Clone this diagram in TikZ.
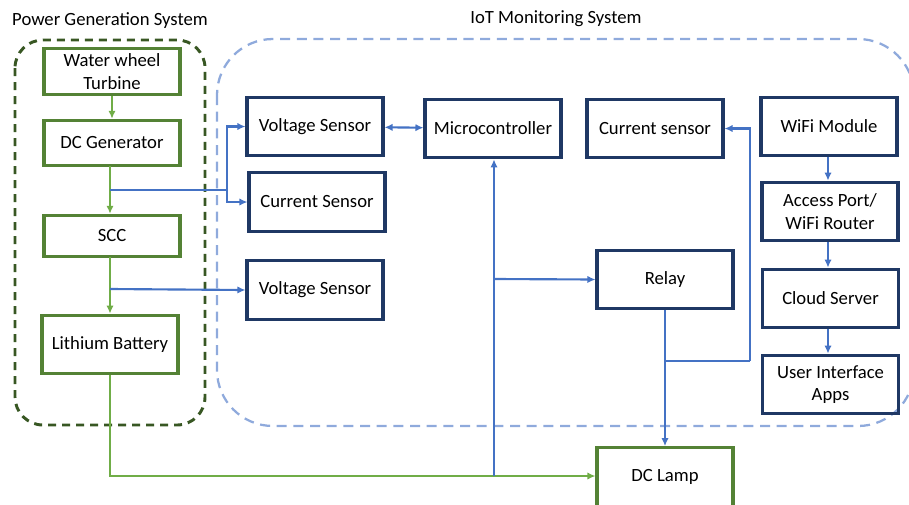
\documentclass[tikz,border=0pt]{standalone}
\usepackage{fontspec}
\setmainfont{Carlito}
\usetikzlibrary{arrows.meta}

\definecolor{pgreen}{HTML}{548235}
\definecolor{lgreen}{HTML}{70AD47}
\definecolor{dgreen}{HTML}{385723}
\definecolor{navy}{HTML}{1F3864}
\definecolor{lblue}{HTML}{4472C4}
\definecolor{dashblue}{HTML}{8FAADC}

\begin{document}
\begin{tikzpicture}[x=0.75pt, y=-0.75pt,
    font=\fontsize{14}{17}\selectfont,
    block/.style={rectangle, draw=navy, line width=2.3pt, minimum width=102pt, minimum height=44pt, align=center, inner sep=2pt},
    pgblock/.style={block, draw=pgreen},
    arrow/.style={-{Latex[length=6pt,width=5.5pt]}, line width=1.6pt, draw=lblue},
    dblarrow/.style={arrow, {Latex[length=6pt,width=5.5pt]}-{Latex[length=6pt,width=5.5pt]}},
    garrow/.style={arrow, draw=lgreen},
    wire/.style={line width=1.6pt, draw=lblue},
    gwire/.style={wire, draw=lgreen},
    pggroup/.style={draw=dgreen, line width=2.2pt, dash pattern=on 6pt off 4.5pt, rounded corners=21pt},
    iotgroup/.style={draw=dashblue, line width=1.7pt, dash pattern=on 7.5pt off 5pt, rounded corners=42pt}
]
\useasboundingbox (0,0) rectangle (909,504);

% Group frames
\draw[pggroup] (15,40) rectangle (205,425);
\draw[iotgroup] (217,39) rectangle (914,426);
\node (pg_title) at (110,21) {Power Generation System};
\node (iot_title) at (556,19) {IoT Monitoring System};

% Power generation blocks
\node[pgblock, minimum height=35pt] (turbine) at (112,71.5) {Water wheel\\Turbine};
\node[pgblock, minimum height=34pt] (dc_gen) at (112,143) {DC Generator};
\node[pgblock, minimum height=31pt] (scc) at (112,236) {SCC};
\node[pgblock] (battery) at (110,344.5) {Lithium Battery};
\node[pgblock] (dc_lamp) at (665,477) {DC Lamp};

% Sensors
\node[block] (vs_gen) at (315,126.5) {Voltage Sensor};
\node[block] (cs_gen) at (317,202) {Current Sensor};
\node[block] (vs_scc) at (315,290) {Voltage Sensor};
\node[block] (cs_load) at (655,128.5) {Current sensor};

% Control
\node[block] (mcu) at (493,128.5) {Microcontroller};
\node[block] (relay) at (665,279.5) {Relay};

% Network chain
\node[block] (wifi) at (829,126.5) {WiFi Module};
\node[block] (router) at (830,211.5) {Access Port/\\WiFi Router};
\node[block] (cloud) at (830.5,298.5) {Cloud Server};
\node[block] (ui_apps) at (830.5,384.5) {User Interface\\Apps};

% Tap points
\coordinate (tap_gen) at (110,190);
\coordinate (split_gen) at (227,190);
\coordinate (tap_scc) at (110,289);
\coordinate (tap_lamp) at (494,476);
\coordinate (tap_mcu) at (494,279);
\coordinate (tap_relay) at (665,361);
\coordinate (loop_cs) at (750,361);

% Power path
\draw[garrow] (turbine) -- (dc_gen);
\draw[garrow] (110,166) -- (scc.north -| 110,0);
\draw[garrow] (110,257) -- (battery);
\draw[gwire] (battery.south) |- (tap_lamp);
\draw[garrow] (tap_lamp) -- (dc_lamp.west |- tap_lamp);

% Sensor wiring
\draw[wire] (tap_gen) -- (split_gen);
\draw[arrow] (split_gen) |- (vs_gen.west);
\draw[arrow] (split_gen) |- (cs_gen.west);
\draw[arrow] (tap_scc) -- (vs_scc.west);
\draw[dblarrow] (vs_gen) -- (mcu);

% Control wiring
\draw[arrow] (tap_lamp) -- (mcu.south -| tap_lamp);
\draw[arrow] (tap_mcu) -- (relay.west);
\draw[arrow] (relay) -- (dc_lamp);
\draw[wire] (tap_relay) -- (loop_cs);
\draw[arrow] (loop_cs) |- (cs_load.east);

% Network arrows
\draw[arrow] (wifi.south -| 828,0) -- (router.north -| 828,0);
\draw[arrow] (router.south -| 828,0) -- (cloud.north -| 828,0);
\draw[arrow] (cloud.south -| 828,0) -- (ui_apps.north -| 828,0);

\end{tikzpicture}
\end{document}
